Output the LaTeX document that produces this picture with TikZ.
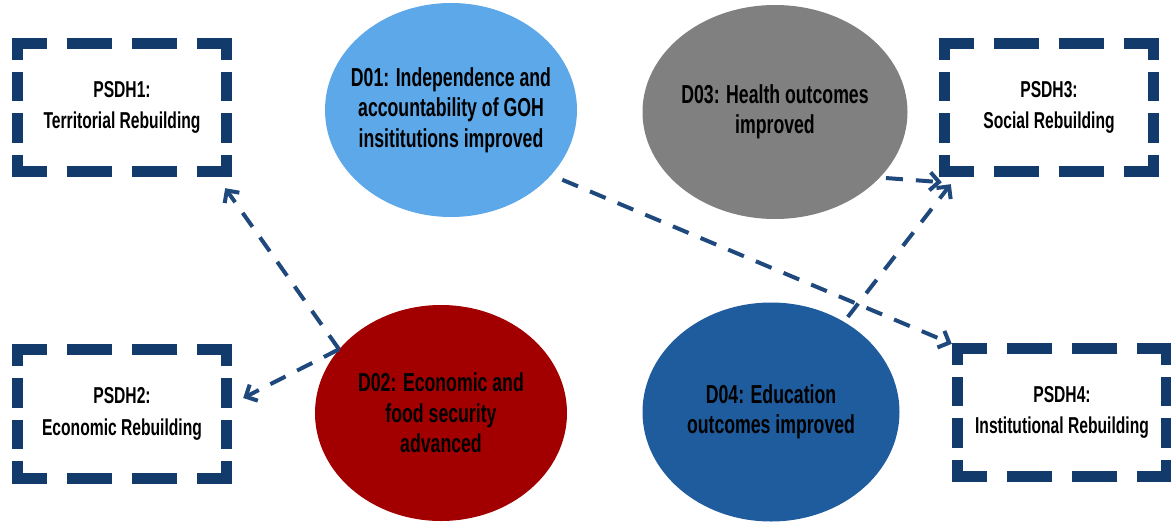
\documentclass[tikz,border=0pt]{standalone}
\usepackage{fontspec}
\setmainfont{Liberation Sans}[FakeStretch=0.68]
\usepackage{xcolor}
\usepackage{tikz}
\usetikzlibrary{shapes.geometric}
\usetikzlibrary{arrows.meta}

\definecolor{framenavy}{RGB}{18,59,107}
\definecolor{linkblue}{RGB}{31,73,125}
\definecolor{govblue}{RGB}{93,168,232}
\definecolor{econred}{RGB}{162,0,0}
\definecolor{healthgrey}{RGB}{128,128,128}
\definecolor{edublue}{RGB}{30,92,158}

\tikzset{
  goal/.style={ellipse, inner sep=-15pt, align=center,
    font=\bfseries\fontsize{26}{30.5}\selectfont},
  psdh/.style={rectangle, minimum width=209pt, minimum height=128pt,
    inner sep=0pt, align=center, font=\bfseries\fontsize{23}{31.5}\selectfont},
  frameh/.style={draw=framenavy, line width=11pt, line cap=rect,
    dash pattern=on 34pt off 31pt, dash phase=10pt},
  framev/.style={draw=framenavy, line width=11pt, line cap=rect,
    dash pattern=on 18.5pt off 23pt, dash phase=7.5pt},
  link/.style={draw=linkblue, line width=4pt, dash pattern=on 17pt off 13pt,
    -{Straight Barb[length=9pt,width=18pt]}}
}

% four dashed sides with a corner piece at each end
\newcommand{\psdhframe}[1]{%
  \draw[frameh] (#1.north west) -- (#1.north east);
  \draw[frameh] (#1.south west) -- (#1.south east);
  \draw[framev] (#1.north west) -- (#1.south west);
  \draw[framev] (#1.north east) -- (#1.south east);
}

\begin{document}
\begin{tikzpicture}[x=1pt, y=-1pt]

  \useasboundingbox (0,0) rectangle (1171,525);
  \clip (0,0) rectangle (1171,525);

  % development objectives
  \node[goal, fill=govblue, minimum width=252pt, minimum height=214pt] (d01) at (451,110)
    {D01: Independence and\\accountability of GOH\\insititutions improved};
  \node[goal, fill=econred, minimum width=252pt, minimum height=216pt] (d02) at (441,413)
    {D02: Economic and\\food security\\advanced};
  \node[goal, fill=healthgrey, minimum width=265pt, minimum height=214pt] (d03) at (775,112)
    {D03: Health outcomes\\improved};
  \node[goal, fill=edublue, minimum width=257pt, minimum height=219pt] (d04) at (771,412)
    {D04: Education\\outcomes improved};

  % PSDH pillars
  \node[psdh] (psdh1) at (122,107.5) {PSDH1:\\Territorial Rebuilding};
  \node[psdh] (psdh2) at (122,414) {PSDH2:\\Economic Rebuilding};
  \node[psdh] (psdh3) at (1049,107.5) {PSDH3:\\Social Rebuilding};
  \node[psdh] (psdh4) at (1062,412.5) {PSDH4:\\Institutional Rebuilding};
  \foreach \p in {psdh1, psdh2, psdh3, psdh4}{
    \psdhframe{\p}
  }

  % links
  \draw[link] (d02.148) -- ([shift={(-1.5,16.5)}]psdh1.south east);
  \draw[link] (d02.148) -- ([shift={(16.5,-16)}]psdh2.east);
  \draw[link, shorten <=12pt] (d01.327) -- ([shift={(-5.5,-4.5)}]psdh4.north west);
  \draw[link, shorten <=6pt] (d04.51) -- ([shift={(6.5,12.5)}]psdh3.south west);
  \draw[link, shorten <=6pt] (d03.328) -- ([shift={(-2.5,10.5)}]psdh3.south west);

\end{tikzpicture}
\end{document}
